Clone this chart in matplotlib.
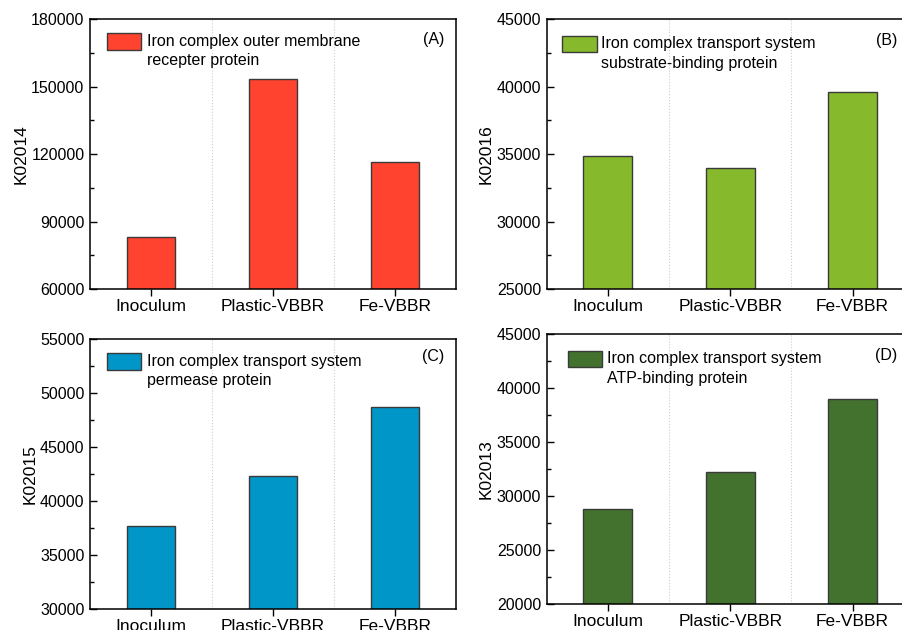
import numpy as np
import matplotlib
matplotlib.use('Agg')
import matplotlib.pyplot as plt
from matplotlib.patches import Rectangle
from matplotlib.ticker import MultipleLocator

plt.rcParams['font.family'] = ['Liberation Sans', 'DejaVu Sans']

groups = ['Inoculum', 'Plastic-VBBR', 'Fe-VBBR']

k02014 = [83300, 153300, 116300]
k02016 = [34850, 34000, 39600]
k02015 = [37700, 42350, 48700]
k02013 = [28800, 32250, 39000]

panels = [
    # values, ylabel, legend text, colour, tag, ylim, major step
    (k02014, 'K02014', 'Iron complex outer membrane\nrecepter protein', '#FF432E', '(A)', (60000, 180000), 30000),
    (k02016, 'K02016', 'Iron complex transport system\nsubstrate-binding protein', '#86B92C', '(B)', (25000, 45000), 5000),
    (k02015, 'K02015', 'Iron complex transport system\npermease protein', '#0096C8', '(C)', (30000, 55000), 5000),
    (k02013, 'K02013', 'Iron complex transport system\nATP-binding protein', '#43722F', '(D)', (20000, 45000), 5000),
]

W, H = 903, 630
# axes boxes in pixels: left, top, right, bottom
boxes = [(90, 19.3, 456, 289), (546.7, 19.3, 913.7, 289),
         (90, 339.3, 456, 609.3), (546.7, 334.3, 913.7, 604)]
# legend patch (x0, x1, ytop, ybot), text x, first-line centre y, tag x, tag y  (axes fraction)
leg_pos = [(0.046, 0.140, 0.949, 0.886, 0.155, 0.917, 0.938, 0.926),
           (0.043, 0.136, 0.939, 0.878, 0.148, 0.907, 0.926, 0.921),
           (0.046, 0.140, 0.950, 0.886, 0.155, 0.917, 0.938, 0.936),
           (0.057, 0.151, 0.938, 0.877, 0.165, 0.908, 0.924, 0.920)]

fig = plt.figure(figsize=(W / 100, H / 100), dpi=100)

for (vals, ylab, legtxt, col, tag, ylim, step), box, lp in zip(panels, boxes, leg_pos):
    l, t, r, b = box
    ax = fig.add_axes([l / W, 1 - b / H, (r - l) / W, (b - t) / H])
    x = np.arange(len(groups))
    ax.bar(x, vals, width=0.4, color=col, edgecolor='#3a3a3a', linewidth=1.0, zorder=2)
    ax.set_xlim(-0.5, 2.5)
    ax.set_ylim(*ylim)
    ax.yaxis.set_major_locator(MultipleLocator(step))
    ax.yaxis.set_minor_locator(MultipleLocator(step / 2))
    ax.set_xticks(x)
    ax.set_xticklabels(groups, fontsize=12.5)
    ax.tick_params(axis='y', which='major', direction='in', length=5, width=1, labelsize=11.5, pad=4)
    ax.tick_params(axis='y', which='minor', direction='in', length=3, width=1)
    ax.tick_params(axis='x', direction='out', length=5, width=1, pad=2)
    for s in ax.spines.values():
        s.set_linewidth(1.1)
    for xv in (0.5, 1.5):
        ax.axvline(xv, color='#cccccc', linestyle=':', linewidth=0.8, zorder=1)
    ax.set_ylabel(ylab, fontsize=12.5, labelpad=2)

    x0, x1, yt, yb, tx, ty, gx, gy = lp
    ax.add_patch(Rectangle((x0, yb), x1 - x0, yt - yb, transform=ax.transAxes,
                           facecolor=col, edgecolor='#3a3a3a', linewidth=1.0, zorder=3))
    ax.text(tx, ty + 0.03, legtxt, transform=ax.transAxes, fontsize=11.5, va='top',
            ha='left', linespacing=1.38, zorder=3)
    ax.text(gx, gy, tag, transform=ax.transAxes, fontsize=11.5, ha='center', va='center')

fig.savefig('out.png', dpi=100)
